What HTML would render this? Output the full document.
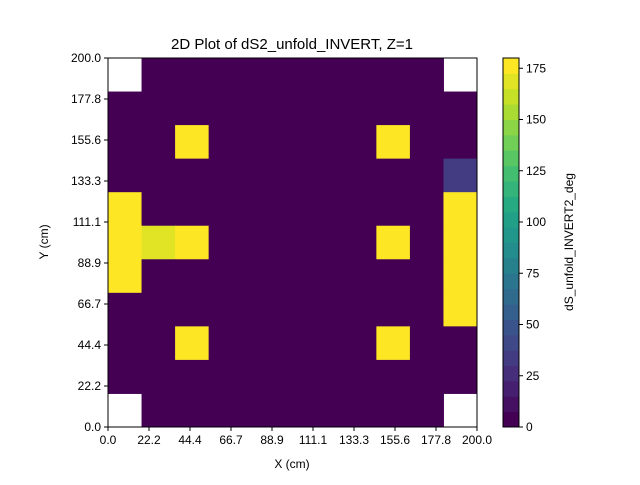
<!DOCTYPE html>
<html><head><meta charset="utf-8"><style>
body{margin:0;background:#fff;}
svg text{font-family:"Liberation Sans","DejaVu Sans",sans-serif;fill:#000;}
</style></head><body>
<svg id="chart" width="640" height="480" xmlns="http://www.w3.org/2000/svg">
<rect width="640" height="480" fill="#fff"/>
<g id="cells"></g>
<g id="axes"></g>
<g id="cbar"></g>
<text x="292" y="49" font-size="15" text-anchor="middle">2D Plot of dS2_unfold_INVERT, Z=1</text>
<text x="292" y="468" font-size="12" text-anchor="middle">X (cm)</text>
<text x="0" y="0" font-size="12" text-anchor="middle" transform="translate(48,242) rotate(-90)">Y (cm)</text>
<text x="0" y="0" font-size="12" text-anchor="middle" transform="translate(573,242) rotate(-90)">dS_unfold_INVERT2_deg</text>
</svg>
<script>
const N = null;
// rows from top (Y=200) to bottom (Y=0), 11 columns X=0..200
const gridValues = [
 [N,0,0,0,0,0,0,0,0,0,N],
 [0,0,0,0,0,0,0,0,0,0,0],
 [0,0,180,0,0,0,0,0,180,0,0],
 [0,0,0,0,0,0,0,0,0,0,36],
 [180,0,0,0,0,0,0,0,0,0,180],
 [180,172,180,0,0,0,0,0,180,0,180],
 [180,0,0,0,0,0,0,0,0,0,180],
 [0,0,0,0,0,0,0,0,0,0,180],
 [0,0,180,0,0,0,0,0,180,0,0],
 [0,0,0,0,0,0,0,0,0,0,0],
 [N,0,0,0,0,0,0,0,0,0,N]
];
const xTickLabels = ["0.0","22.2","44.4","66.7","88.9","111.1","133.3","155.6","177.8","200.0"];
const yTickLabels = ["0.0","22.2","44.4","66.7","88.9","111.1","133.3","155.6","177.8","200.0"];
const cbarTicks = [0,25,50,75,100,125,150,175];
const vmin = 0, vmax = 180, nLevels = 24;

const L=108,R=477,T=58,B=427;
const sx = v => L + (v/200)*(R-L);
const sy = v => B - (v/200)*(B-T);
const stops=["#440154","#482475","#414487","#355f8d","#2a788e","#21918c","#22a884","#44bf70","#7ad151","#bddf26","#fde725"];
function hex(h){return [1,3,5].map(i=>parseInt(h.substr(i,2),16));}
function viridis(t){t=Math.max(0,Math.min(1,t));const p=t*10,i=Math.min(9,Math.floor(p)),f=p-i;const a=hex(stops[i]),b=hex(stops[i+1]);return "rgb("+a.map((c,k)=>Math.round(c+(b[k]-c)*f)).join(",")+")";}
function color(v){let lv=Math.min(nLevels-1,Math.floor((v-vmin)/(vmax-vmin)*nLevels));return viridis(lv/(nLevels-1));}
const NS="http://www.w3.org/2000/svg";
function mk(tag,attrs,parent){const e=document.createElementNS(NS,tag);for(const k in attrs)e.setAttribute(k,attrs[k]);parent.appendChild(e);return e;}
const cells=document.getElementById('cells');
const n=gridValues.length, cw=200/n;
gridValues.forEach((row,r)=>row.forEach((v,c)=>{
  if(v===null)return;
  const x0=sx(c*cw),x1=sx((c+1)*cw),y0=sy(200-r*cw),y1=sy(200-(r+1)*cw);
  const e=mk('rect',{x:x0,y:y0,width:x1-x0+0.5,height:y1-y0+0.5,fill:color(v)},cells);
  
  
}));
const ax=document.getElementById('axes');
mk('rect',{x:L,y:T,width:R-L,height:B-T,fill:'none',stroke:'#000','stroke-width':1},ax);
xTickLabels.forEach((lab,i)=>{
  const v=i*200/9, x=sx(v);
  mk('line',{x1:x,x2:x,y1:B,y2:B+4,stroke:'#000'},ax);
  const t=mk('text',{x:x,y:B+17,'font-size':12,'text-anchor':'middle'},ax);t.textContent=lab;
  
  
});
yTickLabels.forEach((lab,i)=>{
  const v=i*200/9, y=sy(v);
  mk('line',{x1:L-4,x2:L,y1:y,y2:y,stroke:'#000'},ax);
  const t=mk('text',{x:L-7,y:y+4,'font-size':12,'text-anchor':'end'},ax);t.textContent=lab;
  
  
});
const cb=document.getElementById('cbar');
const CL=503,CR=519;
const cy=v=>B-(v-vmin)/(vmax-vmin)*(B-T);
for(let i=0;i<nLevels;i++){
  const a=vmin+i*(vmax-vmin)/nLevels,b=vmin+(i+1)*(vmax-vmin)/nLevels;
  const e=mk('rect',{x:CL,y:cy(b),width:CR-CL,height:cy(a)-cy(b)+0.5,fill:viridis(i/(nLevels-1))},cb);
  
  
}
mk('rect',{x:CL,y:T,width:CR-CL,height:B-T,fill:'none',stroke:'#000','stroke-width':1},cb);
cbarTicks.forEach(v=>{
  const y=cy(v);
  mk('line',{x1:CR,x2:CR+4,y1:y,y2:y,stroke:'#000'},cb);
  const t=mk('text',{x:CR+7,y:y+4,'font-size':12},cb);t.textContent=v;
  
  
});
</script>
</body></html>
